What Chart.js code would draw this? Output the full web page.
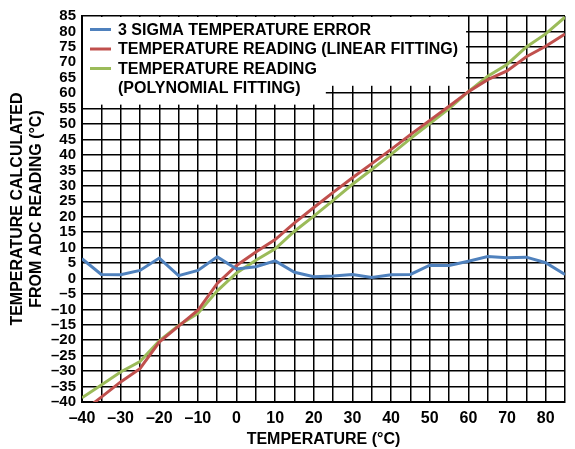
<!DOCTYPE html>
<html>
<head>
<meta charset="utf-8">
<script src="https://cdn.jsdelivr.net/npm/chart.js@4.4.1/dist/chart.umd.min.js"></script>
<style>
    body { margin: 0; background: #fff; }
    #wrap { width: 575px; height: 449px; }
</style>
</head>
<body>
<div id="wrap"><canvas id="temp-chart" width="575" height="449"></canvas></div>
<script>
/* -------- DATA START -------- */
const temperatures = [-40, -35, -30, -25, -20, -15, -10, -5, 0, 5, 10, 15, 20, 25, 30, 35, 40, 45, 50, 55, 60, 65, 70, 75, 80, 85];
const sigmaError = [6.4, 1.3, 1.2, 2.6, 6.6, 0.9, 2.6, 7.0, 3.1, 3.8, 5.7, 2.0, 0.6, 0.8, 1.3, 0.3, 1.2, 1.3, 4.3, 4.2, 5.6, 7.1, 6.7, 6.9, 5.1, 1.3];
const linearReading = [-43.3, -38.4, -33.5, -29.2, -20.6, -15.4, -10.3, -1.6, 4.2, 8.6, 12.6, 18.0, 23.0, 27.9, 32.6, 37.2, 41.8, 46.6, 51.2, 55.8, 60.5, 64.4, 67.2, 71.8, 75.2, 79.2];
const polyReading = [-38.6, -34.5, -30.3, -26.9, -20.2, -15.2, -11.3, -4.0, 1.8, 5.9, 9.6, 15.3, 20.2, 25.3, 30.5, 35.3, 40.2, 45.3, 50.2, 55.0, 60.5, 65.5, 69.3, 75.0, 79.2, 84.6];

const xTickLabels = [-40, -30, -20, -10, 0, 10, 20, 30, 40, 50, 60, 70, 80];
const legendLabels = [
    ["3 SIGMA TEMPERATURE ERROR"],
    ["TEMPERATURE READING (LINEAR FITTING)"],
    ["TEMPERATURE READING", "(POLYNOMIAL FITTING)"]
];
const xTitle = "TEMPERATURE (°C)";
const yTitle = ["TEMPERATURE CALCULATED", "FROM ADC READING (°C)"];
/* -------- DATA END -------- */

const COLORS = ["#4f81bd", "#c0504d", "#9bbb59"];
const FONT = "'Liberation Sans', Arial, sans-serif";

// turn "-5" into "–5" like the datasheet
function dash(v) {
    return String(v).replace("-", "\u2013");
}

function toPoints(values) {
    return temperatures.map((t, i) => ({ x: t, y: values[i] }));
}

// white legend panel drawn over the grid, inside the plot
const legendBoxPlugin = {
    id: "legendBox",
    beforeDatasetsDraw(chart) {
        const { ctx, chartArea, scales } = chart;
        const l = chartArea.left + 1;
        const t = chartArea.top + 1;
        ctx.save();
        ctx.fillStyle = "#fff";
        ctx.fillRect(l, t, scales.x.getPixelForValue(59.4) - l, scales.y.getPixelForValue(62.4) - t);
        ctx.fillRect(l, t, scales.x.getPixelForValue(23.1) - l, scales.y.getPixelForValue(56.3) - t);

        ctx.font = "bold 16px " + FONT;
        ctx.textBaseline = "middle";
        ctx.fillStyle = "#000";
        const rowGap = 19.5;
        let row = 0;
        legendLabels.forEach((lines, i) => {
            const yy = chartArea.top + 13.5 + row * rowGap;
            ctx.strokeStyle = COLORS[i];
            ctx.lineWidth = 3;
            ctx.beginPath();
            ctx.moveTo(chartArea.left + 8, yy);
            ctx.lineTo(chartArea.left + 29, yy);
            ctx.stroke();
            lines.forEach((txt, j) => {
                ctx.fillText(txt, chartArea.left + 36, yy + 1 + j * rowGap);
            });
            row += lines.length;
        });
        ctx.restore();
    }
};

function lineSet(label, values, color) {
    return {
        label: label,
        data: toPoints(values),
        borderColor: color,
        backgroundColor: color,
        borderWidth: 3,
        pointRadius: 0,
        tension: 0,
        clip: 0
    };
}

document.addEventListener("DOMContentLoaded", () => {
    const ctx = document.getElementById("temp-chart").getContext("2d");
    new Chart(ctx, {
        type: "line",
        data: {
            datasets: [
                lineSet(legendLabels[0].join(" "), sigmaError, COLORS[0]),
                lineSet(legendLabels[1].join(" "), linearReading, COLORS[1]),
                lineSet(legendLabels[2].join(" "), polyReading, COLORS[2])
            ]
        },
        options: {
            responsive: false,
            animation: false,
            layout: { padding: { top: 16, right: 10, left: 0, bottom: 0 } },
            plugins: {
                legend: { display: false },
                tooltip: { enabled: false }
            },
            scales: {
                x: {
                    type: "linear",
                    min: -40,
                    max: 85,
                    afterFit: (s) => { s.height = 47; },
                    ticks: {
                        stepSize: 5,
                        autoSkip: false,
                        maxRotation: 0,
                        padding: 7,
                        color: "#000",
                        font: { family: FONT, size: 16, weight: "bold" },
                        callback: (v) => xTickLabels.includes(v) ? dash(v) : ""
                    },
                    grid: { color: "#000", lineWidth: 1.5, drawTicks: false },
                    border: { color: "#000", width: 2 },
                    title: {
                        display: true,
                        text: xTitle,
                        color: "#000",
                        padding: { top: 4, bottom: 0 },
                        font: { family: FONT, size: 16, weight: "bold" }
                    }
                },
                y: {
                    min: -40,
                    max: 85,
                    afterFit: (s) => { s.width = 82; },
                    ticks: {
                        stepSize: 5,
                        autoSkip: false,
                        padding: 6,
                        color: "#000",
                        font: { family: FONT, size: 15, weight: "bold" },
                        callback: (v) => dash(v)
                    },
                    grid: { color: "#000", lineWidth: 1.5, drawTicks: false },
                    border: { color: "#000", width: 2 },
                    title: {
                        display: true,
                        text: yTitle,
                        color: "#000",
                        padding: { top: 8, bottom: 0 },
                        font: { family: FONT, size: 16, weight: "bold", lineHeight: 1.2 }
                    }
                }
            }
        },
        plugins: [legendBoxPlugin]
    });
});
</script>
</body>
</html>
